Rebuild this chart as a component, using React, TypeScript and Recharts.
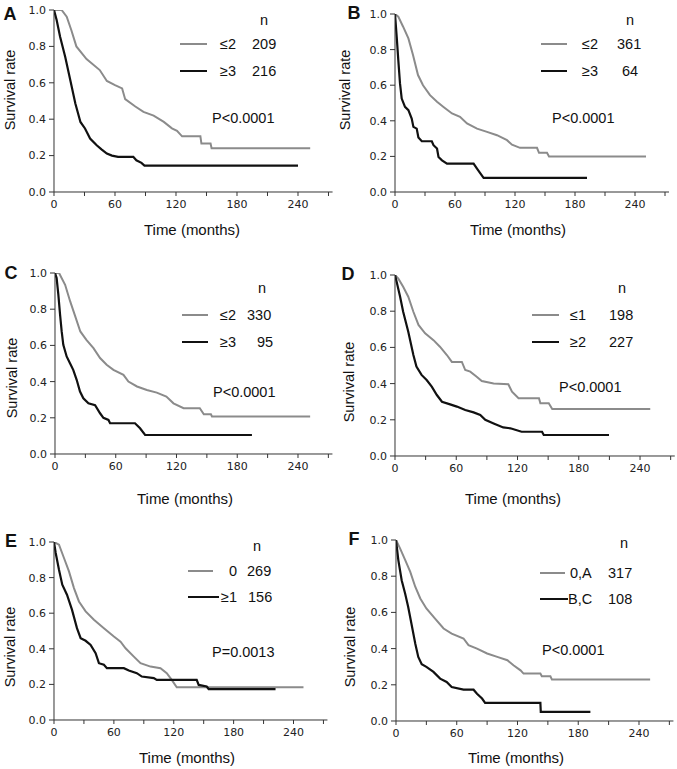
import React from 'react';
import { LineChart, Line, XAxis, YAxis } from 'recharts';

type Pt = [number, number];

const xTicks = [0, 30, 60, 90, 120, 150, 180, 210, 240, 270];
const xLabelTicks = [0, 60, 120, 180, 240];
const yTicks = [0, 0.2, 0.4, 0.6, 0.8, 1.0];

// Panel A
const aGray: Pt[] = [[0,1],[7.5,1],[12.5,0.963],[17,0.89],[22,0.8],[32,0.73],[45,0.67],[52,0.61],[60,0.587],[67,0.569],[70,0.51],[80,0.47],[88,0.44],[98,0.42],[108,0.385],[116,0.35],[121,0.336],[126,0.306],[144,0.306],[145,0.266],[154,0.266],[155,0.24],[252,0.24]];
const aBlack: Pt[] = [[0,1],[2.6,0.945],[6,0.853],[11,0.743],[16,0.615],[21,0.486],[26,0.385],[30.5,0.349],[35.5,0.294],[42,0.257],[47,0.233],[52,0.211],[57,0.2],[63,0.193],[78,0.193],[81,0.174],[86,0.16],[89,0.145],[240,0.145]];
// Panel B
const bGray: Pt[] = [[0,1],[3.3,0.985],[8,0.93],[13.4,0.863],[18,0.77],[23,0.657],[28,0.6],[35,0.544],[42,0.507],[48.5,0.478],[57,0.441],[65,0.422],[72,0.385],[82,0.356],[92,0.338],[102,0.319],[112,0.291],[117,0.266],[125,0.248],[142,0.248],[144,0.22],[152,0.22],[154,0.2],[251,0.2]];
const bBlack: Pt[] = [[0,1],[1.7,0.872],[3.3,0.741],[5,0.61],[6.7,0.525],[10,0.478],[13.4,0.46],[16.7,0.413],[18.4,0.366],[21.7,0.356],[23.4,0.306],[26.8,0.285],[36.8,0.285],[38.5,0.263],[42,0.244],[43.5,0.197],[47,0.178],[52,0.159],[78.6,0.159],[82,0.131],[85,0.107],[88.6,0.079],[192,0.079]];
// Panel C
const cGray: Pt[] = [[0,1],[4,1],[10,0.935],[15,0.843],[20,0.76],[25,0.677],[31,0.631],[38,0.585],[44.5,0.53],[51,0.493],[57.7,0.465],[67.6,0.437],[72.5,0.4],[81,0.373],[90.7,0.354],[100.5,0.339],[110,0.317],[117,0.28],[127,0.253],[143,0.253],[147,0.219],[154,0.219],[155,0.207],[252,0.207]];
const cBlack: Pt[] = [[0,1],[1.6,0.972],[3.3,0.88],[5,0.77],[6.6,0.677],[8.2,0.603],[11.5,0.539],[14.8,0.502],[18,0.465],[21.4,0.41],[24.7,0.345],[28,0.308],[33,0.28],[39.6,0.27],[44.5,0.225],[47.8,0.2],[52.8,0.188],[54.4,0.17],[79,0.17],[84,0.142],[89,0.105],[194.5,0.105]];
// Panel D
const dGray: Pt[] = [[0,1],[3.3,0.98],[8,0.935],[13,0.88],[18,0.797],[23,0.724],[29.5,0.678],[37.7,0.64],[44,0.604],[50.8,0.558],[55.7,0.52],[65.5,0.52],[68.8,0.475],[73.7,0.466],[80,0.438],[85,0.414],[96.6,0.401],[111,0.396],[114.6,0.355],[121,0.319],[141,0.319],[142.4,0.291],[150.6,0.291],[154,0.26],[250,0.26]];
const dBlack: Pt[] = [[0,1],[1.6,0.963],[5,0.88],[8,0.797],[13,0.687],[18,0.558],[21,0.494],[26,0.448],[31,0.42],[36,0.383],[41,0.337],[46,0.3],[54,0.285],[60.6,0.273],[68.8,0.254],[77,0.241],[83.5,0.227],[88.4,0.2],[96.6,0.18],[106,0.158],[113,0.153],[124,0.134],[144,0.134],[145.7,0.116],[209.6,0.116]];
// Panel E
const eGray: Pt[] = [[0,1],[5,0.985],[10,0.91],[15,0.835],[20,0.741],[25,0.666],[31.7,0.61],[40,0.563],[50,0.516],[60,0.469],[66.7,0.44],[71.7,0.403],[80,0.356],[86.7,0.319],[96.7,0.3],[106.7,0.291],[113,0.263],[118,0.225],[123,0.184],[250,0.184]];
const eBlack: Pt[] = [[0,1],[1.7,0.938],[5,0.844],[8.3,0.76],[13,0.704],[18,0.62],[23,0.516],[26.7,0.46],[31.7,0.445],[36.7,0.422],[41.7,0.375],[45,0.319],[50,0.31],[53,0.291],[70,0.291],[75,0.278],[83,0.263],[88,0.244],[100,0.235],[103,0.225],[143,0.225],[145,0.197],[153,0.188],[155,0.174],[222,0.174]];
// Panel F
const fGray: Pt[] = [[0,1],[4,0.954],[9,0.89],[14,0.825],[19,0.742],[24,0.677],[30,0.622],[38.6,0.566],[47,0.511],[55,0.483],[66.7,0.456],[71.6,0.419],[80,0.4],[90,0.373],[100,0.354],[110,0.336],[116,0.308],[123,0.28],[126,0.262],[142.6,0.262],[144,0.247],[152.5,0.247],[154,0.229],[251,0.229]];
const fBlack: Pt[] = [[0,1],[2.3,0.889],[5.6,0.778],[9,0.705],[12,0.631],[15.5,0.53],[19,0.428],[22,0.354],[25.4,0.314],[30,0.299],[37,0.271],[43.6,0.234],[50,0.216],[55,0.188],[66.7,0.173],[76.6,0.173],[80,0.151],[85,0.124],[88,0.1],[142.6,0.1],[143,0.05],[192,0.05]];

// Legend texts
const panelLetters = ['A', 'B', 'C', 'D', 'E', 'F'];
const grayLabels = ['\u22642', '\u22642', '\u22642', '\u22641', '0', '0,A'];
const blackLabels = ['\u22653', '\u22653', '\u22653', '\u22652', '\u22651', 'B,C'];
const grayCounts = ['209', '361', '330', '198', '269', '317'];
const blackCounts = ['216', '64', '95', '227', '156', '108'];
const pValues = ['P<0.0001', 'P<0.0001', 'P<0.0001', 'P<0.0001', 'P=0.0013', 'P<0.0001'];

const GRAY = '#8b8b8b';
const BLACK = '#111111';
const X_MAX = 274;
const SANS = '"Liberation Sans", Arial, sans-serif';

type Geo = {
  x0: number; k: number; y1: number; y0: number;
  letter: [number, number];
  yTitle: [number, number];
  xTitle: [number, number];
  grayLine: [number, number]; blackLine: [number, number];
  rows: [number, number];
  grayLabelX: number; blackLabelX: number;
  grayCountX: number; blackCountX: number;
  nHeader: [number, number];
  p: [number, number];
};

const geos: Geo[] = [
  { x0: 54, k: 1.0167, y1: 10, y0: 192, letter: [10, 14], yTitle: [10, 90], xTitle: [192, 229],
    grayLine: [180, 207], blackLine: [180, 207], rows: [44, 71], grayLabelX: 220, blackLabelX: 220,
    grayCountX: 252, blackCountX: 252, nHeader: [264, 20], p: [212, 118] },
  { x0: 395, k: 1.0, y1: 14, y0: 192, letter: [354, 13], yTitle: [345, 90], xTitle: [518, 229],
    grayLine: [541, 567], blackLine: [541, 567], rows: [44, 71], grayLabelX: 582, blackLabelX: 582,
    grayCountX: 617, blackCountX: 622, nHeader: [630, 20], p: [552, 118] },
  { x0: 55, k: 1.0125, y1: 273, y0: 454, letter: [11, 273], yTitle: [12, 378], xTitle: [185, 498],
    grayLine: [182, 208], blackLine: [182, 208], rows: [315, 342], grayLabelX: 220, blackLabelX: 220,
    grayCountX: 247, blackCountX: 257, nHeader: [262, 288], p: [213, 392] },
  { x0: 395, k: 1.021, y1: 275, y0: 456, letter: [348, 274], yTitle: [349, 382], xTitle: [513, 498],
    grayLine: [532, 559], blackLine: [532, 559], rows: [315, 342], grayLabelX: 570, blackLabelX: 570,
    grayCountX: 609, blackCountX: 609, nHeader: [622, 288], p: [559, 387] },
  { x0: 54, k: 0.998, y1: 542, y0: 720, letter: [11, 541], yTitle: [10, 647], xTitle: [187, 757],
    grayLine: [188, 213], blackLine: [188, 219], rows: [571, 597], grayLabelX: 229, blackLabelX: 221,
    grayCountX: 247, blackCountX: 248, nHeader: [257, 546], p: [212, 652] },
  { x0: 396, k: 1.0125, y1: 540, y0: 721, letter: [354, 539], yTitle: [350, 647], xTitle: [516, 757],
    grayLine: [540, 565], blackLine: [540, 568], rows: [573, 599], grayLabelX: 570, blackLabelX: 568,
    grayCountX: 608, blackCountX: 608, nHeader: [624, 543], p: [542, 650] },
];

const curves: [Pt[], Pt[]][] = [
  [aGray, aBlack], [bGray, bBlack], [cGray, cBlack], [dGray, dBlack], [eGray, eBlack], [fGray, fBlack],
];

const toData = (pts: Pt[]) => pts.map(([t, s]) => ({ t, s }));

function Txt({ x, y, children, size = 14.5, bold = false, center = false, rotate = false }: any) {
  const tf = rotate
    ? 'translate(-50%, -50%) rotate(-90deg)'
    : center ? 'translate(-50%, -50%)' : 'translateY(-50%)';
  return (
    <div style={{
      position: 'absolute', left: x, top: y, transform: tf, whiteSpace: 'nowrap',
      fontFamily: SANS, fontSize: size, fontWeight: bold ? 700 : 400, color: '#111', lineHeight: 1,
    }}>{children}</div>
  );
}

function HLine({ x1, x2, y, color }: { x1: number; x2: number; y: number; color: string }) {
  return <div style={{ position: 'absolute', left: x1, top: y - 1, width: x2 - x1, height: 2, background: color }} />;
}

function Panel({ i }: { i: number }) {
  const g = geos[i];
  const [gray, black] = curves[i];
  const W = 50 + X_MAX * g.k + 8;
  const plotH = g.y0 - g.y1;
  const H = 10 + plotH + 40;
  const tickStyle = { fontSize: 11, fontFamily: '"DejaVu Sans", Verdana, sans-serif', fill: '#222' };
  return (
    <>
      <div style={{ position: 'absolute', left: g.x0 - 50, top: g.y1 - 10 }}>
        <LineChart width={W} height={H} margin={{ top: 10, right: 8, left: 0, bottom: 0 }}>
          <XAxis
            dataKey="t" type="number" domain={[0, X_MAX]} ticks={xTicks} interval={0}
            tickFormatter={(v: number) => (xLabelTicks.includes(v) ? String(v) : '')}
            allowDataOverflow stroke="#333" tickSize={4} tickMargin={4} height={40} tick={tickStyle}
          />
          <YAxis
            type="number" domain={[0, 1]} ticks={yTicks} interval={0}
            tickFormatter={(v: number) => v.toFixed(1)}
            allowDataOverflow stroke="#333" tickSize={5} tickMargin={3} width={50} tick={tickStyle}
          />
          <Line data={toData(gray)} dataKey="s" type="linear" stroke={GRAY} strokeWidth={2} dot={false} activeDot={false} isAnimationActive={false} />
          <Line data={toData(black)} dataKey="s" type="linear" stroke={BLACK} strokeWidth={2.2} dot={false} activeDot={false} isAnimationActive={false} />
        </LineChart>
      </div>
      <Txt x={g.letter[0]} y={g.letter[1]} size={18} bold center>{panelLetters[i]}</Txt>
      <Txt x={g.yTitle[0]} y={g.yTitle[1]} size={14.5} rotate>Survival rate</Txt>
      <Txt x={g.xTitle[0]} y={g.xTitle[1]} size={15} center>Time (months)</Txt>
      <Txt x={g.nHeader[0]} y={g.nHeader[1]} size={14.5} center>n</Txt>
      <HLine x1={g.grayLine[0]} x2={g.grayLine[1]} y={g.rows[0]} color={GRAY} />
      <HLine x1={g.blackLine[0]} x2={g.blackLine[1]} y={g.rows[1]} color={BLACK} />
      <Txt x={g.grayLabelX} y={g.rows[0]}>{grayLabels[i]}</Txt>
      <Txt x={g.blackLabelX} y={g.rows[1]}>{blackLabels[i]}</Txt>
      <Txt x={g.grayCountX} y={g.rows[0]}>{grayCounts[i]}</Txt>
      <Txt x={g.blackCountX} y={g.rows[1]}>{blackCounts[i]}</Txt>
      <Txt x={g.p[0]} y={g.p[1]} size={14.5}>{pValues[i]}</Txt>
    </>
  );
}

export default function App() {
  return (
    <div style={{ position: 'absolute', left: 0, top: 0, width: 677, height: 769, background: '#fff', overflow: 'hidden' }}>
      {geos.map((_, i) => <Panel key={i} i={i} />)}
    </div>
  );
}
